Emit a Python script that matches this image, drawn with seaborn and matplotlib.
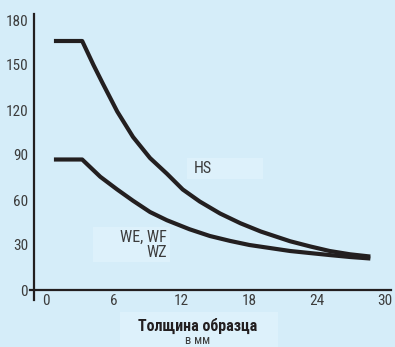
import matplotlib
matplotlib.use("Agg")
import matplotlib.pyplot as plt
from matplotlib import font_manager
from matplotlib.patches import Rectangle
import pandas as pd
import seaborn as sns

# Hardness curves vs. sample thickness
hs_x = [0.7, 3.2, 4.2, 5.0, 6.3, 7.7, 9.2, 10.7, 12.1, 13.6, 15.4, 17.2,
        19.0, 21.6, 23.4, 25.1, 26.9, 28.7]
hs_y = [166, 166, 150, 138, 119, 102, 88, 77.5, 67, 59, 51, 44.5,
        39, 32.5, 29.0, 26.0, 23.8, 22.3]
we_x = [0.7, 3.2, 4.8, 6.3, 7.7, 9.2, 10.7, 12.7, 14.5, 16.3, 18.0, 19.8,
        21.6, 23.4, 25.1, 26.9, 28.7]
we_y = [87, 87, 75.5, 67, 59.5, 52, 46.5, 40.5, 36, 32.7, 30, 28,
        26, 24.6, 23.3, 22, 21]

x_ticks = [0, 6, 12, 18, 24, 30]
y_ticks = [0, 30, 60, 90, 120, 150, 180]
label_hs = "HS"
label_we = "WE, WF\nWZ"
xlabel_main = "Толщина образца"
xlabel_unit = "в мм"

BG = "#d5edf9"
BOX = "#ddf1fb"
INK = "#231f20"
TXT = "#3c3c3c"

sns.set_style("white")
installed = {f.name for f in font_manager.fontManager.ttflist}
narrow = [f for f in ["Liberation Sans Narrow", "DejaVu Sans Condensed",
                      "Roboto Condensed", "Open Sans Condensed"] if f in installed]
plt.rcParams["font.family"] = narrow + ["Roboto", "DejaVu Sans"]

W, H = 395, 347
fig = plt.figure(figsize=(W / 100, H / 100), dpi=100, facecolor=BG)
ax = fig.add_axes([30.2 / W, 1 - 299.75 / H, 360.5 / W, 285.75 / H])
ax.patch.set_visible(False)

df = pd.concat([
    pd.DataFrame({"x": hs_x, "y": hs_y, "grade": "HS"}),
    pd.DataFrame({"x": we_x, "y": we_y, "grade": "WE"}),
])
sns.lineplot(data=df, x="x", y="y", units="grade", estimator=None,
             color=INK, lw=3.0, sort=False, ax=ax, legend=False)
for ln in ax.lines:
    ln.set_solid_capstyle("butt")
    ln.set_solid_joinstyle("round")

ax.set_xlim(-1.4, 30.5)
ax.set_ylim(-6.5, 184)
ax.set_xticks(x_ticks)
ax.set_yticks(y_ticks)
ax.set_xlabel("")
ax.set_ylabel("")
ax.tick_params(length=0, labelsize=11, labelcolor=TXT)
ax.tick_params(axis="x", pad=3)
ax.tick_params(axis="y", pad=4)

for s in ["top", "right"]:
    ax.spines[s].set_visible(False)
ax.spines["left"].set_position(("data", -1.1))
ax.spines["bottom"].set_position(("data", 0))
for s in ["left", "bottom"]:
    ax.spines[s].set_color(INK)
    ax.spines[s].set_linewidth(1.6)

# lighter label panels behind the text
def panel(x0, y0, x1, y1):
    fig.add_artist(Rectangle((x0 / W, 1 - y1 / H), (x1 - x0) / W, (y1 - y0) / H,
                             transform=fig.transFigure, facecolor=BOX,
                             edgecolor="none", zorder=-1))

panel(187, 158, 263, 179)
panel(93, 227, 170, 262)
panel(120, 312, 278, 347)

ax.text(13.9, 81, label_hs, ha="center", va="center", fontsize=11.5, color=TXT)
ax.text(10.7, 30, label_we, ha="right", va="center", fontsize=11.5, color=TXT,
        linespacing=0.95)

fig.text(198 / W, 1 - 326 / H, xlabel_main, ha="center", va="center",
         fontsize=11.5, fontweight="bold", color=INK)
fig.text(198 / W, 1 - 341 / H, xlabel_unit, ha="center", va="center",
         fontsize=9, color=TXT)

fig.savefig("out.png", dpi=100, facecolor=BG)
